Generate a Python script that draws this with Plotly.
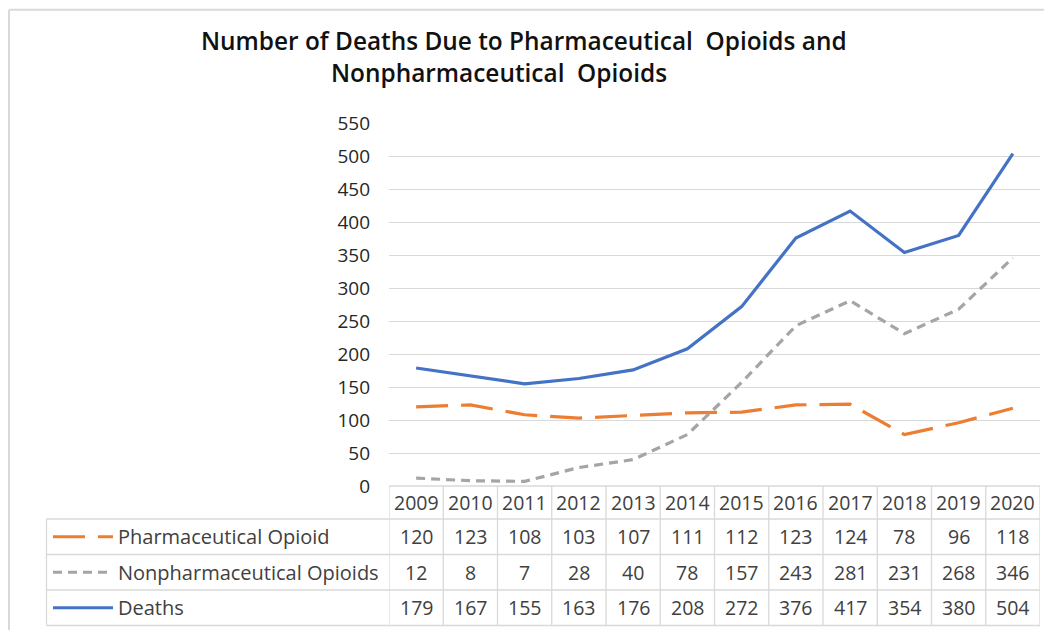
import plotly.graph_objects as go

years = ["2009", "2010", "2011", "2012", "2013", "2014", "2015", "2016", "2017", "2018", "2019", "2020"]
pharma = [120, 123, 108, 103, 107, 111, 112, 123, 124, 78, 96, 118]
nonpharma = [12, 8, 7, 28, 40, 78, 157, 243, 281, 231, 268, 346]
deaths = [179, 167, 155, 163, 176, 208, 272, 376, 417, 354, 380, 504]

series_names = ["Pharmaceutical Opioid", "Nonpharmaceutical Opioids", "Deaths"]
series_vals = [pharma, nonpharma, deaths]
series_colors = ["#ED7D31", "#A5A5A5", "#4472C4"]
series_dash = ["32px,13px", "9px,6px", "solid"]

title_line1 = "Number of Deaths Due to Pharmaceutical  Opioids and"
title_line2 = "Nonpharmaceutical  Opioids"

W, H = 1052, 630
OFF = 8  # page body margin offset
def px(x):
    return (x - OFF) / W
def py(y):
    return 1 - (y - OFF) / H

FONT = "Open Sans"
TXT = "#404040"
GRID = "#D9D9D9"

xpos = list(range(len(years)))

fig = go.Figure()
for name, vals, col, dash in zip(series_names, series_vals, series_colors, series_dash):
    fig.add_trace(go.Scatter(
        x=xpos, y=vals, mode="lines", name=name,
        line=dict(color=col, width=3.2, dash=dash),
        showlegend=False, hoverinfo="skip",
    ))

shapes = []
annotations = []

# outer frame (top + left)
shapes.append(dict(type="line", xref="paper", yref="paper", x0=px(9), x1=1.0, y0=py(9.8), y1=py(9.8),
                   line=dict(color=GRID, width=2)))
shapes.append(dict(type="line", xref="paper", yref="paper", x0=px(9), x1=px(9), y0=py(9.8), y1=0,
                   line=dict(color=GRID, width=2)))

# table geometry (pixels)
hdr_top, hdr_bot = 486, 519
row_bounds = [519, 554.5, 590, 625.5]
tbl_left, tbl_label_right, tbl_right = 46.5, 389, 1040

# horizontal borders
shapes.append(dict(type="line", xref="paper", yref="paper", x0=px(tbl_label_right), x1=px(tbl_right),
                   y0=py(hdr_top), y1=py(hdr_top), line=dict(color=GRID, width=1.3)))
for yb in row_bounds:
    shapes.append(dict(type="line", xref="paper", yref="paper", x0=px(tbl_left), x1=px(tbl_right),
                       y0=py(yb), y1=py(yb), line=dict(color=GRID, width=1.3)))
# vertical borders for year columns
for i in range(len(years) + 1):
    shapes.append(dict(type="line", xref="x", yref="paper", x0=i - 0.5, x1=i - 0.5,
                       y0=py(hdr_top), y1=py(row_bounds[-1]), line=dict(color=GRID, width=1.3)))
# left border of label column
shapes.append(dict(type="line", xref="paper", yref="paper", x0=px(tbl_left), x1=px(tbl_left),
                   y0=py(row_bounds[0]), y1=py(row_bounds[-1]), line=dict(color=GRID, width=1.3)))

TBL_SIZE = 19.5

# header years
hdr_c = (hdr_top + hdr_bot) / 2
for i, yr in enumerate(years):
    annotations.append(dict(x=i, y=py(hdr_c), xref="x", yref="paper", text=yr, showarrow=False,
                            font=dict(family=FONT, size=TBL_SIZE, color=TXT), xanchor="center", yanchor="middle"))

# rows
for r, (name, vals, col, dash) in enumerate(zip(series_names, series_vals, series_colors, series_dash)):
    yc = (row_bounds[r] + row_bounds[r + 1]) / 2
    shapes.append(dict(type="line", xref="paper", yref="paper", x0=px(53), x1=px(113),
                       y0=py(yc), y1=py(yc), line=dict(color=col, width=3.2, dash=dash)))
    annotations.append(dict(x=px(116), y=py(yc), xref="paper", yref="paper", text=name, showarrow=False,
                            font=dict(family=FONT, size=20, color=TXT), xanchor="left", yanchor="middle"))
    for i, v in enumerate(vals):
        annotations.append(dict(x=i, y=py(yc), xref="x", yref="paper", text=str(v), showarrow=False,
                                font=dict(family=FONT, size=TBL_SIZE, color=TXT), xanchor="center", yanchor="middle"))

# title
annotations.append(dict(x=px(524), y=py(40), xref="paper", yref="paper", text=title_line1, showarrow=False,
                        font=dict(family=FONT, size=24.4, color="#111111", weight=600), xanchor="center", yanchor="middle"))
annotations.append(dict(x=px(499), y=py(73), xref="paper", yref="paper", text=title_line2, showarrow=False,
                        font=dict(family=FONT, size=24.4, color="#111111", weight=600), xanchor="center", yanchor="middle"))

fig.update_layout(
    width=W, height=H,
    margin=dict(l=0, r=0, t=0, b=0, pad=0, autoexpand=False),
    paper_bgcolor="white", plot_bgcolor="white",
    shapes=shapes, annotations=annotations,
    xaxis=dict(domain=[px(389), px(1040)], range=[-0.5, len(years) - 0.5], automargin=False,
               showticklabels=False, showgrid=False, zeroline=False, showline=False, ticks=""),
    yaxis=dict(domain=[py(486), py(123.3)], range=[0, 550], dtick=50, tick0=0, automargin=False,
               showgrid=True, gridcolor=GRID, gridwidth=1.3, zeroline=False, showline=False,
               ticks="", ticklabelstandoff=18,
               tickfont=dict(family=FONT, size=19, color="#262626")),
)

fig.write_html("out.html")
